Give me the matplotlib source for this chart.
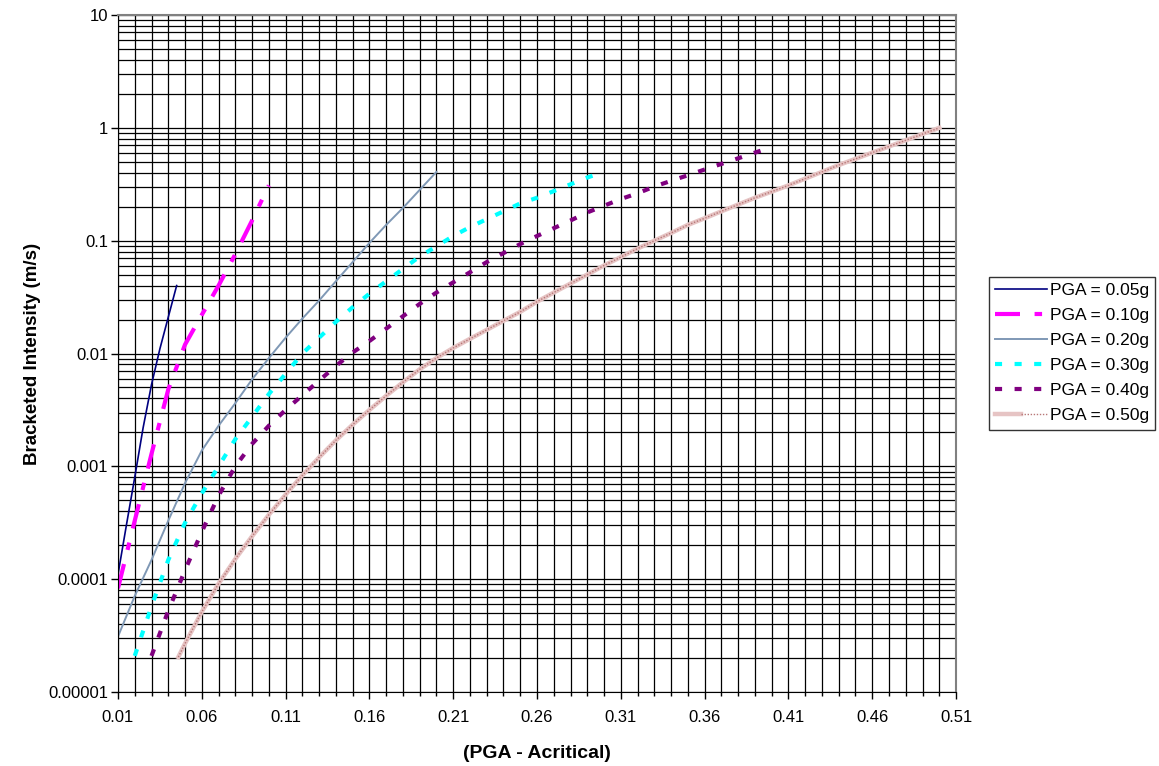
import matplotlib.pyplot as plt
from matplotlib.ticker import FixedLocator, MultipleLocator
from matplotlib.legend_handler import HandlerTuple

plt.rcParams['font.family'] = ['Liberation Sans', 'DejaVu Sans']

# (PGA - Acritical) values and bracketed intensity (m/s)
x_005 = [0.010, 0.015, 0.020, 0.025, 0.030, 0.035, 0.040, 0.045]
y_005 = [1.1e-4, 3.0e-4, 8.0e-4, 2.2e-3, 5.3e-3, 1.1e-2, 2.1e-2, 4.0e-2]

x_010 = [0.01, 0.02, 0.03, 0.04, 0.05, 0.06, 0.07, 0.08, 0.09, 0.10]
y_010 = [8.3e-5, 3.3e-4, 1.29e-3, 4.8e-3, 1.2e-2, 2.2e-2, 4.0e-2, 7.6e-2,
         0.151, 0.309]

x_020 = [0.01, 0.02, 0.03, 0.04, 0.05, 0.06, 0.07, 0.08, 0.09, 0.10,
         0.11, 0.12, 0.13, 0.14, 0.15, 0.16, 0.17, 0.18, 0.19, 0.20]
y_020 = [3.1e-5, 7.1e-5, 1.48e-4, 3.3e-4, 7.1e-4, 1.38e-3, 2.29e-3, 3.63e-3,
         5.9e-3, 9.1e-3, 0.0138, 0.0204, 0.0295, 0.0437, 0.0646, 0.0955,
         0.138, 0.195, 0.282, 0.407]

x_030 = [0.02, 0.03, 0.04, 0.05, 0.06, 0.07, 0.08, 0.09, 0.10, 0.11,
         0.12, 0.13, 0.14, 0.15, 0.16, 0.17, 0.18, 0.19, 0.20, 0.21,
         0.22, 0.23, 0.24, 0.25, 0.26, 0.27, 0.28, 0.29, 0.30]
y_030 = [2.09e-5, 5.75e-5, 1.48e-4, 3.16e-4, 5.75e-4, 1.0e-3, 1.74e-3,
         2.75e-3, 4.37e-3, 6.61e-3, 1.0e-2, 1.38e-2, 1.91e-2, 2.57e-2,
         3.39e-2, 4.37e-2, 5.62e-2, 7.24e-2, 8.91e-2, 0.110, 0.132, 0.155,
         0.182, 0.214, 0.240, 0.275, 0.316, 0.363, 0.407]

x_040 = [0.03, 0.04, 0.05, 0.06, 0.07, 0.08, 0.09, 0.10, 0.11, 0.12,
         0.13, 0.14, 0.15, 0.16, 0.17, 0.18, 0.19, 0.20, 0.21, 0.22,
         0.23, 0.24, 0.25, 0.26, 0.27, 0.28, 0.29, 0.30, 0.31, 0.32,
         0.33, 0.34, 0.35, 0.36, 0.37, 0.38, 0.39, 0.40]
y_040 = [2.09e-5, 5.25e-5, 1.20e-4, 2.63e-4, 5.50e-4, 1.00e-3, 1.58e-3,
         2.29e-3, 3.16e-3, 4.27e-3, 5.75e-3, 7.76e-3, 1.02e-2, 1.29e-2,
         1.66e-2, 2.14e-2, 2.75e-2, 3.47e-2, 4.27e-2, 5.25e-2, 6.46e-2,
         7.76e-2, 9.33e-2, 0.110, 0.129, 0.151, 0.178, 0.204, 0.234, 0.263,
         0.302, 0.339, 0.380, 0.427, 0.479, 0.537, 0.603, 0.676]

x_050 = [0.046, 0.05, 0.06, 0.07, 0.08, 0.09, 0.10, 0.11, 0.12, 0.13,
         0.14, 0.15, 0.16, 0.17, 0.18, 0.19, 0.20, 0.21, 0.22, 0.23,
         0.24, 0.25, 0.26, 0.27, 0.28, 0.29, 0.30, 0.31, 0.32, 0.33,
         0.34, 0.35, 0.36, 0.37, 0.38, 0.39, 0.40, 0.41, 0.42, 0.43,
         0.44, 0.45, 0.46, 0.47, 0.48, 0.49, 0.50]
y_050 = [2.04e-5, 2.69e-5, 5.13e-5, 9.12e-5, 1.51e-4, 2.40e-4, 3.72e-4,
         5.62e-4, 8.32e-4, 1.20e-3, 1.70e-3, 2.34e-3, 3.16e-3, 4.22e-3,
         5.56e-3, 7.24e-3, 9.12e-3, 1.12e-2, 1.35e-2, 1.62e-2, 1.95e-2,
         2.34e-2, 2.88e-2, 3.47e-2, 4.17e-2, 5.01e-2, 6.03e-2, 7.16e-2,
         8.51e-2, 0.100, 0.117, 0.138, 0.158, 0.182, 0.209, 0.240, 0.272,
         0.309, 0.355, 0.407, 0.468, 0.531, 0.603, 0.684, 0.776, 0.881, 1.0]

x_ticks = [0.01, 0.06, 0.11, 0.16, 0.21, 0.26, 0.31, 0.36, 0.41, 0.46, 0.51]
y_ticks = [1e-5, 1e-4, 1e-3, 1e-2, 1e-1, 1, 10]
y_labels = ['0.00001', '0.0001', '0.001', '0.01', '0.1', '1', '10']

fig = plt.figure(figsize=(11.59, 7.66), dpi=100)
ax = fig.add_axes([0.1018, 0.0966, 0.7231, 0.8838])

l1, = ax.plot(x_005, y_005, color='#000080', lw=1.2, label='PGA = 0.05g')
l2, = ax.plot(x_010, y_010, color='#FF00FF', lw=3.0,
              dashes=(6, 3.5, 1.8, 3.5), label='PGA = 0.10g')
l3, = ax.plot(x_020, y_020, color='#7F98B5', lw=1.4, label='PGA = 0.20g')
l4, = ax.plot(x_030, y_030, color='#00FFFF', lw=3.0, dashes=(1.7, 3),
              label='PGA = 0.30g')
l5, = ax.plot(x_040, y_040, color='#800080', lw=3.0, dashes=(1.7, 3),
              label='PGA = 0.40g')
l6a, = ax.plot(x_050, y_050, color='#E6C4C4', lw=3.2)
l6b, = ax.plot(x_050, y_050, color='#B87878', lw=1.0, dashes=(1, 1.2))

ax.set_yscale('log')
ax.set_xlim(0.01, 0.51)
ax.set_ylim(1e-5, 10)

ax.xaxis.set_major_locator(FixedLocator(x_ticks))
ax.set_xticklabels(['%.2f' % v for v in x_ticks])
ax.xaxis.set_minor_locator(MultipleLocator(0.01))
ax.yaxis.set_major_locator(FixedLocator(y_ticks))
ax.set_yticklabels(y_labels)
ax.yaxis.set_minor_locator(FixedLocator(
    [m * 10.0 ** e for e in range(-5, 1) for m in range(2, 10)]))

ax.tick_params(which='major', direction='out', length=5, width=1,
               labelsize=12)
ax.tick_params(axis='y', which='major', pad=2)
ax.tick_params(axis='x', which='major', pad=8)
ax.tick_params(axis='y', which='minor', length=0)
ax.tick_params(axis='x', which='minor', direction='out', length=3, width=1)

ax.grid(True, which='both', color='black', lw=0.9)
ax.set_axisbelow(True)
for s in ['top', 'right']:
    ax.spines[s].set_color('#808080')
    ax.spines[s].set_linewidth(1.5)
for s in ['left', 'bottom']:
    ax.spines[s].set_color('black')

ax.set_xlabel('(PGA - Acritical)', fontsize=14, fontweight='bold', labelpad=14)
ax.set_ylabel('Bracketed Intensity (m/s)', fontsize=13.5, fontweight='bold',
              labelpad=5)

leg = fig.legend([l1, l2, l3, l4, l5, (l6a, l6b)],
                 ['PGA = 0.05g', 'PGA = 0.10g', 'PGA = 0.20g', 'PGA = 0.30g',
                  'PGA = 0.40g', 'PGA = 0.50g'],
                 handler_map={tuple: HandlerTuple(ndivide=None, pad=0)},
                 loc='upper left', bbox_to_anchor=(0.8533, 0.6384),
                 fontsize=12.5, frameon=True, fancybox=False, shadow=False,
                 handlelength=3.0, handletextpad=0.15, labelspacing=0.57,
                 borderpad=0.35, borderaxespad=0)
leg.get_frame().set_edgecolor('black')
leg.get_frame().set_linewidth(1.0)

fig.savefig('out.png', dpi=100)
